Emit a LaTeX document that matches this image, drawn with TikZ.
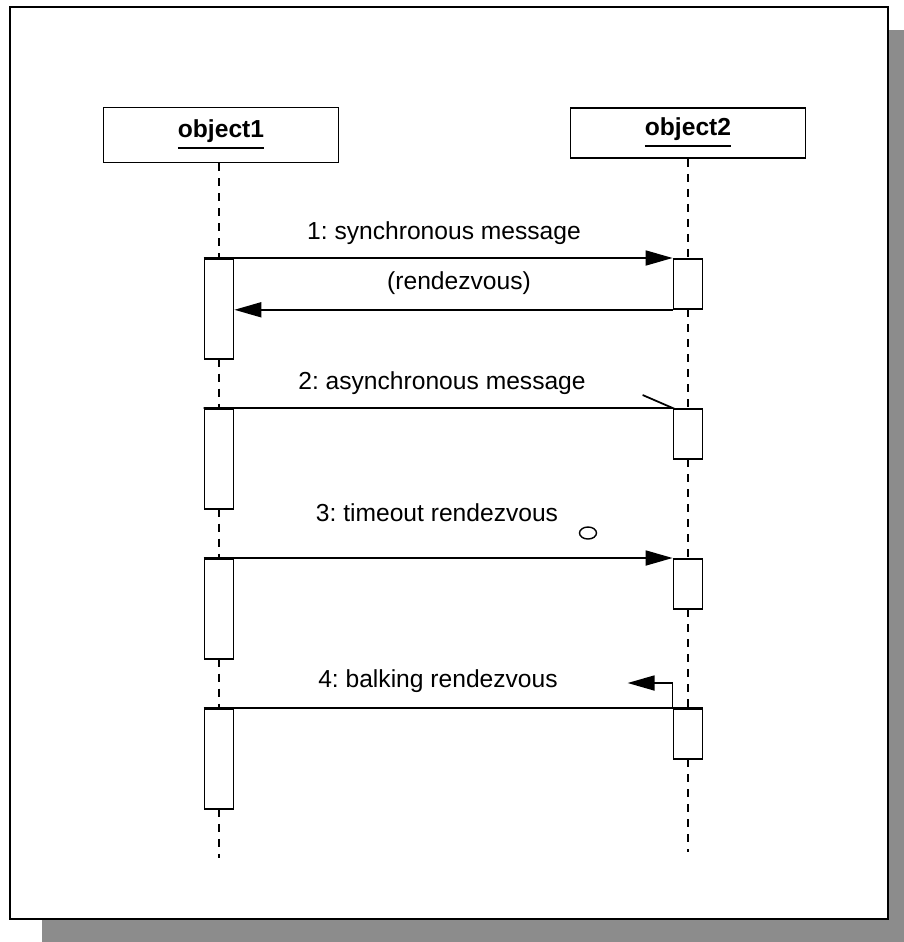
\documentclass[tikz,border=0pt]{standalone}
\usepackage{fontspec}
\setmainfont{Liberation Sans}
\usetikzlibrary{arrows.meta, shapes.geometric}
\frenchspacing
\newcommand{\objname}[1]{\underline{#1}}
\begin{document}
\begin{tikzpicture}[x=0.01cm, y=-0.01cm,
  every node/.style={font=\fontsize{7pt}{8pt}\selectfont},
  line/.style={line width=0.5pt},
  objbox/.style={draw, line width=0.5pt, fill=white, minimum width=2.35cm, inner sep=0pt, font=\fontsize{7pt}{8pt}\selectfont\bfseries},
  actbox/.style={draw, line width=0.5pt, fill=white, minimum width=0.29cm, inner sep=0pt, anchor=north},
  longact/.style={actbox, minimum height=1.0cm},
  shortact/.style={actbox, minimum height=0.5cm},
  lifeline/.style={line width=0.5pt, dash pattern=on 0.08cm off 0.07cm},
  msg/.style={line, -{Triangle[length=0.27cm, width=0.15cm]}},
  plain/.style={line},
  lbl/.style={inner sep=0pt}
]
\useasboundingbox (0,0) rectangle (904,942);

% drop shadow of the frame
\fill[black!45] (889,30) rectangle (904,942);
\fill[black!45] (42,920) rectangle (904,942);
% frame
\draw[line, fill=white] (10,7) rectangle (888,919);

% objects
\node[objbox, minimum height=0.55cm] (o1) at (221,135) {\objname{object1}};
\node[objbox, minimum height=0.50cm] (o2) at (688,133) {\objname{object2}};

% lifelines
\coordinate (e1) at (219,858);
\coordinate (e2) at (688,852);
\draw[lifeline] (o1.south -| e1) -- (e1);
\draw[lifeline] (o2.south -| e2) -- (e2);

% activations on object1
\node[longact] (a1) at (219,258) {};
\node[longact] (a2) at (219,408) {};
\node[longact] (a3) at (219,558) {};
\node[longact] (a4) at (219,708) {};
% activations on object2
\node[shortact] (b1) at (688,258) {};
\node[shortact] (b2) at (688,408) {};
\node[shortact] (b3) at (688,558) {};
\node[shortact] (b4) at (688,708) {};

% 1: synchronous message with rendezvous return
\draw[msg] (a1.north west) -- (b1.north west);
\draw[msg] (b1.south west) -- (b1.south west -| a1.east);
\node[lbl] (l1) at (444,233) {1: synchronous message};
\node[lbl] (l1b) at (459,283) {(rendezvous)};

% 2: asynchronous message (half arrowhead)
\draw[plain] (a2.north west) -- (b2.north west) -- ++(-30,-13);
\node[lbl] (l2) at (442,383) {2: asynchronous message};

% 3: timeout rendezvous
\draw[msg] (a3.north west) -- (b3.north west);
\node[draw, line width=0.4pt, ellipse, minimum width=0.17cm, minimum height=0.12cm, inner sep=0pt] (clk) at (588,533) {};
\node[lbl] (l3) at (437,513) {3: timeout rendezvous};

% 4: balking rendezvous
\draw[plain] (a4.north west) -- (b4.north east);
\draw[msg] (b4.north west) -- ++(0,-25) -- ++(-45,0);
\node[lbl] (l4) at (438,681) {4: balking rendezvous};
\end{tikzpicture}
\end{document}
